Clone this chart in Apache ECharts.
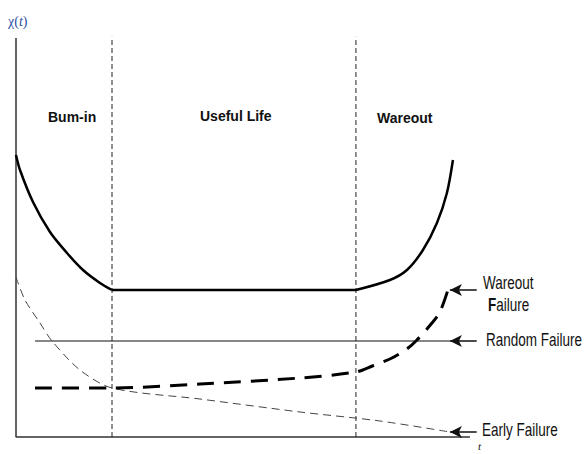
<!DOCTYPE html>
<html><head><meta charset="utf-8">
<script src="https://cdn.jsdelivr.net/npm/echarts@6/dist/echarts.min.js"></script>
<style>html,body{margin:0;padding:0;background:#fff}#c{width:584px;height:454px}</style>
</head><body><div id="c"></div>
<script>
// Phase boundaries (time units)
const phaseBounds = [21.15, 74.89];

// Bathtub curve χ(t): burn-in decay, flat useful life, wear-out rise
const burnT = [0, 0.88, 3.74, 7.49, 11.23, 14.76, 18.5, 21.15];
const burnY = [70.68, 66.92, 58.9, 51.38, 46.12, 41.85, 38.6, 36.84];
const usefulT = [21.15, 74.89];
const usefulY = [36.84, 36.84];
const wearoutT = [74.89, 82.38, 86.12, 89.65, 92.73, 94.93, 96.26];
const wearoutY = [36.84, 39.35, 41.85, 46.87, 53.63, 61.15, 69.42];

// Early failure (thin dashed)
const earlyT = [0, 1.98, 5.29, 7.93, 14.1, 21.15, 40.53, 62.56, 80.18, 95.59];
const earlyY = [40.1, 34.34, 28.57, 24.06, 16.79, 12.28, 9.52, 6.27, 4.01, 1.25];

// Wareout failure (thick dashed)
const wearT = [4.19, 21.15, 40.53, 62.56, 74.89, 78.5, 82.82, 86.12, 88.33, 91.63, 93.39, 95.15];
const wearY = [12.28, 12.28, 13.28, 14.79, 16.29, 17.8, 19.8, 22.06, 24.31, 28.57, 31.33, 36.84];

// Random failure (constant)
const randomT = [4.19, 95.59];
const randomY = 24.06;

// Axes extent of the drawn axis lines
const axisT = [0, 100];
const axisY = [0, 100];

// Annotation arrows: tail t, head t, and the y of each
const arrowTail = 101.5, arrowHead = 95.59;
const arrowYs = [36.84, 24.06, 1.25];

const zip = (a, b) => a.map((v, i) => [v, Array.isArray(b) ? b[i] : b]);
const FONT = '"Liberation Sans", Arial, sans-serif';

const chart = echarts.init(document.getElementById('c'), null, {renderer: 'svg'});
const stretched = (t, x, y) => ({type: 'text', x, y, scaleY: 1.35, originX: 0, originY: 0,
  style: {text: t, fill: '#111', font: '13.5px ' + FONT, textVerticalAlign: 'middle'}});
const bold = (t, x, y) => ({type: 'text', x, y, style: {text: t, fill: '#111', font: 'bold 14px ' + FONT, textVerticalAlign: 'middle'}});
const axisStyle = {color: '#333', width: 1.5};
const solid = (data, w, smooth) => ({type: 'line', data, smooth: smooth || false, symbol: 'none', silent: true, clip: false, lineStyle: {color: '#000', width: w}});

chart.setOption({
  animation: false,
  grid: {left: 16, right: 105, top: 38, bottom: 17},
  xAxis: {type: 'value', min: 0, max: 102, axisLine: {show: false}, axisTick: {show: false}, axisLabel: {show: false}, splitLine: {show: false}},
  yAxis: {type: 'value', min: 0, max: 100, axisLine: {show: false}, axisTick: {show: false}, axisLabel: {show: false}, splitLine: {show: false}},
  series: [
    {type: 'line', data: [[axisT[0], axisY[1]], [axisT[0], axisY[0]], [axisT[1], axisY[0]]], symbol: 'none', silent: true, clip: false, lineStyle: axisStyle},
    ...phaseBounds.map(b => ({type: 'line', data: [[b, 0], [b, 100.3]], symbol: 'none', silent: true, clip: false,
      lineStyle: {color: '#222', width: 1, type: [5, 3]}})),
    solid(zip(burnT, burnY), 2.5, 0.3),
    solid(zip(usefulT, usefulY), 2.5),
    solid(zip(wearoutT, wearoutY), 2.5, 0.3),
    {type: 'line', data: zip(earlyT, earlyY), smooth: 0.3, symbol: 'none', silent: true, lineStyle: {color: '#444', width: 1, type: [8, 5]}},
    {type: 'line', data: zip(wearT, wearY), smooth: 0.3, symbol: 'none', silent: true, lineStyle: {color: '#000', width: 3, type: [17, 10]}},
    {type: 'line', data: zip(randomT, randomY), symbol: 'none', silent: true, clip: false, lineStyle: {color: '#111', width: 1.2},
      markLine: {silent: true, symbol: ['none', 'arrow'], symbolSize: [9, 12], label: {show: false},
        lineStyle: {color: '#111', width: 1.5, type: 'solid'},
        data: arrowYs.map(y => [{coord: [arrowTail, y]}, {coord: [arrowHead, y]}])}}
  ],
  graphic: [
    bold('Bum-in', 48, 117),
    bold('Useful Life', 200, 116),
    bold('Wareout', 377, 118),
    stretched('Wareout', 483, 282),
    {type: 'text', x: 488, y: 304, scaleY: 1.35, originX: 0, originY: 0,
      style: {text: '{b|F}ailure', rich: {b: {fontWeight: 'bold', fontSize: 13.5, fontFamily: 'Liberation Sans', fill: '#111'}}, font: '13.5px ' + FONT, fill: '#111', textVerticalAlign: 'middle'}},
    stretched('Random Failure', 486, 339),
    stretched('Early Failure', 482, 429),
    {type: 'text', x: 8, y: 21, style: {text: 'χ({i|t})', rich: {i: {fontStyle: 'italic', fontSize: 14, fill: '#2b4f9e', fontFamily: 'Liberation Serif'}}, font: '14px "Liberation Serif", serif', fill: '#2b4f9e', textVerticalAlign: 'middle'}},
    {type: 'text', x: 478, y: 446, style: {text: 't', fill: '#111', font: 'italic 11px "Liberation Serif", serif', textVerticalAlign: 'middle'}}
  ]
});
</script></body></html>
